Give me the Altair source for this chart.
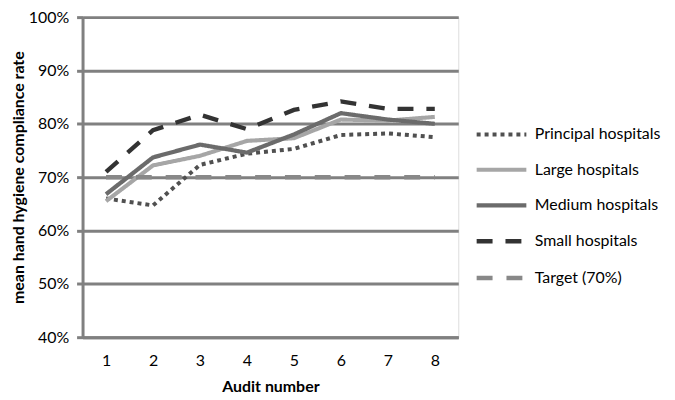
import altair as alt
import pandas as pd

audits = [1, 2, 3, 4, 5, 6, 7, 8]
series_names = ["Principal hospitals", "Large hospitals", "Medium hospitals", "Small hospitals", "Target (70%)"]
principal = [66.0, 64.7, 72.3, 74.4, 75.3, 77.9, 78.2, 77.5]
large = [65.5, 72.2, 74.0, 76.8, 77.3, 80.8, 80.6, 81.3]
medium = [66.8, 73.7, 76.1, 74.6, 78.0, 82.0, 80.8, 80.0]
small = [71.0, 78.8, 81.7, 79.0, 82.6, 84.2, 82.8, 82.8]
target = [70, 70, 70, 70, 70, 70, 70, 70]

rows = []
for name, vals in zip(series_names, [principal, large, medium, small, target]):
    for a, v in zip(audits, vals):
        rows.append({"audit": a, "rate": v / 100.0, "series": name})
df = pd.DataFrame(rows)

FONT = "Lato"
FS = 16
colors = ["#505050", "#a6a6a6", "#6b6b6b", "#333333", "#888888"]
dashes = [[4, 4], [1, 0], [1, 0], [16, 13], [16, 14]]
widths = [4, 4.5, 4.5, 5, 4]

legend = alt.Legend(title=None, orient="none", legendX=394, legendY=91,
                    symbolType="stroke", symbolSize=2500,
                    labelFontSize=FS, labelFont=FONT, labelColor="#000",
                    rowPadding=0, labelOffset=6)

chart = alt.Chart(df).mark_line(strokeCap="butt").encode(
    x=alt.X("audit:O", title="Audit number",
            axis=alt.Axis(labelAngle=0, ticks=False, domainColor="#808080", domainWidth=3,
                          labelPadding=15, titlePadding=11, labelFontSize=FS,
                          titleFontSize=FS, titleFontWeight="bold", labelColor="#000",
                          titleColor="#000", grid=False)),
    y=alt.Y("rate:Q", title="mean hand hygiene compliance rate",
            scale=alt.Scale(domain=[0.4, 1.0], nice=False),
            axis=alt.Axis(format=".0%", values=[0.4, 0.5, 0.6, 0.7, 0.8, 0.9, 1.0],
                          grid=True, gridColor="#808080", gridWidth=3, gridOpacity=1,
                          domainColor="#808080", domainWidth=3, tickColor="#808080",
                          tickWidth=3, tickSize=6, labelPadding=8, labelFontSize=FS,
                          titleFontSize=FS, titleFontWeight="bold", titlePadding=2,
                          labelColor="#000", titleColor="#000")),
    color=alt.Color("series:N", scale=alt.Scale(domain=series_names, range=colors), legend=legend),
    strokeDash=alt.StrokeDash("series:N", scale=alt.Scale(domain=series_names, range=dashes), legend=legend),
    strokeWidth=alt.StrokeWidth("series:N", scale=alt.Scale(domain=series_names, range=widths), legend=legend),
).properties(
    width=378, height=322,
    autosize=alt.AutoSizeParams(type="none"),
    padding={"left": 75, "top": 8, "right": 210, "bottom": 60},
).configure_view(stroke=None).configure(font=FONT)

chart.save("out.html", embed_options={"renderer": "svg", "actions": False})
